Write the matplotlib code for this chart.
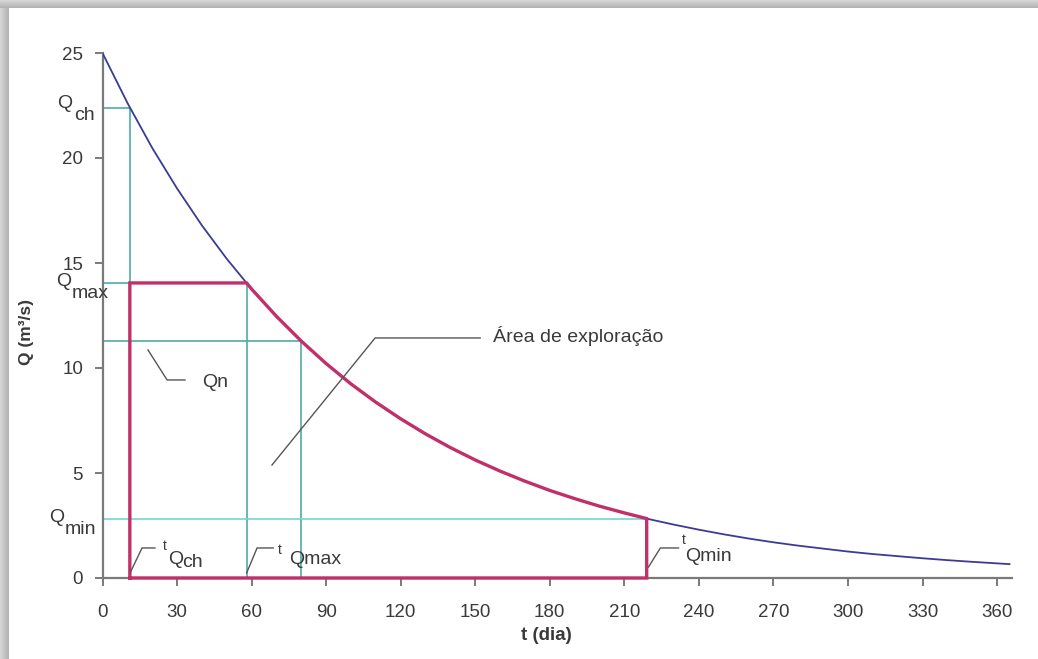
import numpy as np
import matplotlib
matplotlib.use("Agg")
import matplotlib.pyplot as plt

plt.rcParams['font.family'] = ['Liberation Sans', 'DejaVu Sans']

# recession curve (t in days, Q in m3/s)
t_days = [0, 10, 20, 30, 40, 50, 60, 70, 80, 90, 100, 110, 120, 130, 140, 150,
          160, 170, 180, 190, 200, 210, 220, 230, 240, 250, 260, 270, 280, 290,
          300, 310, 320, 330, 340, 350, 365]
q_flow = [25.0, 22.63, 20.48, 18.55, 16.79, 15.2, 13.76, 12.46, 11.28, 10.21,
          9.24, 8.37, 7.58, 6.86, 6.21, 5.62, 5.09, 4.61, 4.17, 3.78, 3.42, 3.1,
          2.8, 2.54, 2.3, 2.08, 1.88, 1.7, 1.54, 1.4, 1.26, 1.14, 1.04, 0.94,
          0.85, 0.77, 0.66]

# characteristic points
t_ch, q_ch = 11, 22.4
t_max, q_max = 58, 14.05
t_n, q_n = 80, 11.3
t_min, q_min = 219, 2.83

x_ticks = list(range(0, 361, 30))
y_ticks = [0, 5, 10, 15, 20, 25]

blue = '#3b3b96'
red = '#c2306a'
teal = '#4eaaa8'
cyan = '#74d6d0'
grey = '#7a7a7a'
txt = '#3a3a3a'

fig = plt.figure(figsize=(10.38, 6.59), dpi=100)

# picture frame shadow
bg = fig.add_axes([0, 0, 1, 1], zorder=-5)
bg.axis('off')
g = np.linspace(0.84, 0.70, 20)
bg.imshow(np.tile(g, (2, 1)), cmap='gray', vmin=0, vmax=1, extent=(0, 9, 659, 0), aspect='auto')
bg.imshow(np.tile(g, (2, 1)).T, cmap='gray', vmin=0, vmax=1, extent=(0, 1038, 8, 0), aspect='auto')
bg.set_xlim(0, 1038)
bg.set_ylim(659, 0)

ax = fig.add_axes([102.5 / 1038, 1 - 578 / 659, (1012 - 102.5) / 1038, (578 - 53) / 659])
ax.set_xlim(0, 366)
ax.set_ylim(0, 25)

t = np.array(t_days, dtype=float)
q = np.array(q_flow)

# full curve
ax.plot(t, q, color=blue, lw=1.3, zorder=3)

# guide lines
ax.plot([0, t_ch, t_ch], [q_ch, q_ch, 0], color=teal, lw=1.2, zorder=2)
ax.plot([0, t_ch], [q_max, q_max], color=teal, lw=1.2, zorder=2)
ax.plot([t_max, t_max], [0, q_max], color=teal, lw=1.2, zorder=2)
ax.plot([0, t_n, t_n], [q_n, q_n, 0], color=teal, lw=1.2, zorder=2)
ax.plot([0, t_min], [q_min, q_min], color=cyan, lw=1.2, zorder=2)

# exploitation area outline
m = (t > t_max) & (t < t_min)
rt = np.concatenate([[t_ch, t_ch, t_max], t[m], [t_min, t_min, t_ch]])
rq = np.concatenate([[0, q_max, q_max], q[m], [q_min, 0, 0]])
ax.plot(rt, rq, color=red, lw=2.4, zorder=4, clip_on=False, solid_joinstyle='miter')

for s in ['top', 'right']:
    ax.spines[s].set_visible(False)
for s in ['left', 'bottom']:
    ax.spines[s].set_color(grey)
    ax.spines[s].set_linewidth(1.6)
ax.set_xticks(x_ticks)
ax.set_yticks(y_ticks)
ax.tick_params(axis='both', direction='out', length=6, width=1.4, color=grey,
               labelcolor=txt, labelsize=13.5)
ax.tick_params(axis='x', pad=13)
ax.tick_params(axis='y', pad=8)

fs = 14
kw = dict(color=txt, clip_on=False, va='center', ha='left', fontsize=fs, zorder=6)

# Q labels on the left
ax.text(-18.3, 22.6, 'Q', **kw)
ax.text(-11.5, 22.0, 'ch', **kw)
ax.text(-18.6, 14.14, 'Q', **kw)
ax.text(-12.6, 13.55, 'max', **kw)
ax.text(-21.4, 2.9, 'Q', **kw)
ax.text(-15.2, 2.3, 'min', **kw)

# t labels
ax.text(24.2, 1.5, 't', color=txt, fontsize=10, va='center', ha='left')
ax.text(26.4, 0.9, 'Q', **kw)
ax.text(32.2, 0.72, 'ch', **kw)
ax.text(70.5, 1.35, 't', color=txt, fontsize=10, va='center', ha='left')
ax.text(75.3, 0.9, 'Qmax', **kw)
ax.text(233.0, 1.8, 't', color=txt, fontsize=10, va='center', ha='left')
ax.text(234.4, 1.02, 'Qmin', **kw)

# leader lines
lk = dict(color='#555555', lw=1.0, zorder=5)
ax.plot([11.1, 15.9, 21.1], [0.24, 1.43, 1.43], **lk)
ax.plot([58.0, 62.2, 68.7], [0.24, 1.43, 1.43], **lk)
ax.plot([219.7, 224.5, 231.8], [0.52, 1.43, 1.43], **lk)
ax.plot([18.3, 26.0, 33.2], [10.86, 9.43, 9.43], **lk)
ax.plot([68.2, 109.7, 152.0], [5.38, 11.43, 11.43], **lk)

ax.text(40.1, 9.3, 'Qn', **kw)
ax.text(157.3, 11.5, 'Área de exploração', **kw)

fig.text(27 / 1038, 1 - 332 / 659, 'Q (m³/s)', rotation=90, ha='center', va='center',
         fontsize=12.5, fontweight='bold', color=txt)
fig.text(546 / 1038, 1 - 636 / 659, 't (dia)', ha='center', va='center',
         fontsize=13.5, fontweight='bold', color=txt)

fig.savefig('out.png', dpi=100)
